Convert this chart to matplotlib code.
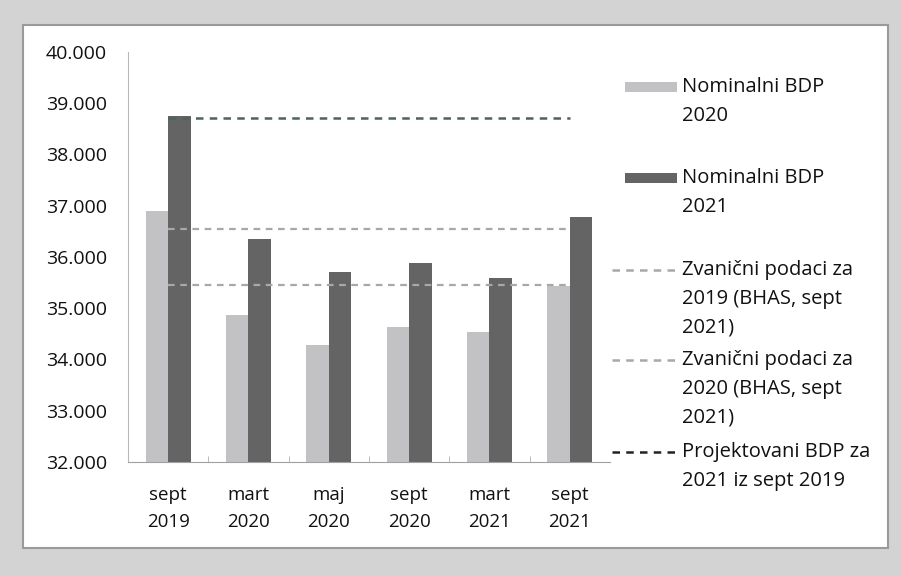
import matplotlib
matplotlib.use("Agg")
from matplotlib import pyplot as plt
from matplotlib.patches import Rectangle
from matplotlib.lines import Line2D
from matplotlib.ticker import FuncFormatter, FixedLocator
import numpy as np

plt.rcParams['font.family'] = ['Open Sans', 'DejaVu Sans']

# podaci
kategorije = ["sept\n2019", "mart\n2020", "maj\n2020", "sept\n2020", "mart\n2021", "sept\n2021"]
bdp_2020 = [36900, 34870, 34280, 34630, 34540, 35430]
bdp_2021 = [38750, 36350, 35710, 35880, 35590, 36780]
zvanicni_2019 = [35450] * 6
zvanicni_2020 = [36550] * 6
projektovani_2021 = [38710] * 6

legenda = ["Nominalni BDP\n2020",
           "Nominalni BDP\n2021",
           "Zvanični podaci za\n2019 (BHAS, sept\n2021)",
           "Zvanični podaci za\n2020 (BHAS, sept\n2021)",
           "Projektovani BDP za\n2021 iz sept 2019"]

svijetla = "#c2c2c4"
tamna = "#646464"
siva_linija = "#a8a8a8"
zelena_linija = "#506455"

fig = plt.figure(figsize=(9.01, 5.76), dpi=100, facecolor="#d3d3d3")
W, H = 901, 576

# bijeli panel
fig.patches.append(Rectangle((23 / W, 1 - 548 / H), (888 - 23) / W, (548 - 25) / H,
                             transform=fig.transFigure, facecolor="white",
                             edgecolor="#9a9a9a", linewidth=1.5, zorder=-5))

ax = fig.add_axes([128 / W, 1 - 462 / H, (610 - 128) / W, (462 - 52) / H])
ax.set_facecolor("none")

x = np.arange(len(kategorije))
sirina = 0.28
ax.bar(x - sirina / 2, bdp_2020, sirina, color=svijetla, zorder=2)
ax.bar(x + sirina / 2, bdp_2021, sirina, color=tamna, zorder=2)
ax.plot(x, zvanicni_2019, color=siva_linija, linestyle=(0, (3, 2.5)), linewidth=1.6, zorder=3)
ax.plot(x, zvanicni_2020, color=siva_linija, linestyle=(0, (3, 2.5)), linewidth=1.6, zorder=3)
ax.plot(x, projektovani_2021, color=zelena_linija, linestyle=(0, (3, 2.5)), linewidth=1.8, zorder=3)

ax.set_xlim(-0.5, len(kategorije) - 0.5)
ax.set_ylim(32000, 40000)
ax.set_yticks(np.arange(32000, 40001, 1000))
ax.yaxis.set_major_formatter(FuncFormatter(lambda v, p: "{:,.0f}".format(v).replace(",", ".")))
ax.set_xticks(x)
ax.set_xticklabels(kategorije, fontsize=13.5, linespacing=1.7, color="#111111")
ax.xaxis.set_minor_locator(FixedLocator(np.arange(0.5, len(kategorije) - 0.5, 1)))
ax.tick_params(axis="x", which="major", length=0, pad=17)
ax.tick_params(axis="x", which="minor", direction="in", length=4, color="#b0b0b0")
ax.tick_params(axis="y", length=0, pad=15, labelsize=14, labelcolor="#111111")

for s in ["top", "right"]:
    ax.spines[s].set_visible(False)
ax.spines["left"].set_color("#b8b8b8")
ax.spines["bottom"].set_color("#a0a0a0")

# legenda
def ft(px, py):
    return px / W, 1 - py / H

stavke = [
    (87, "patch", svijetla),
    (178, "patch", tamna),
    (270, "line", siva_linija),
    (360, "line", siva_linija),
    (452, "line", "#222222"),
]
for (py, vrsta, boja), tekst in zip(stavke, legenda):
    if vrsta == "patch":
        x0, y0 = ft(625, py + 5)
        fig.patches.append(Rectangle((x0, y0), 52 / W, 10 / H, transform=fig.transFigure,
                                     facecolor=boja, edgecolor="none"))
    else:
        x0, y0 = ft(612, py)
        x1, _ = ft(678, py)
        fig.lines.append(Line2D([x0, x1], [y0, y0], transform=fig.transFigure,
                                color=boja, linestyle=(0, (3, 2.5)), linewidth=1.8))
    tx, ty = ft(682, py - 10)
    fig.text(tx, ty, tekst, fontsize=14.5, va="top", ha="left", linespacing=1.6, color="#111111")

plt.savefig("out.png", dpi=100, facecolor=fig.get_facecolor())
